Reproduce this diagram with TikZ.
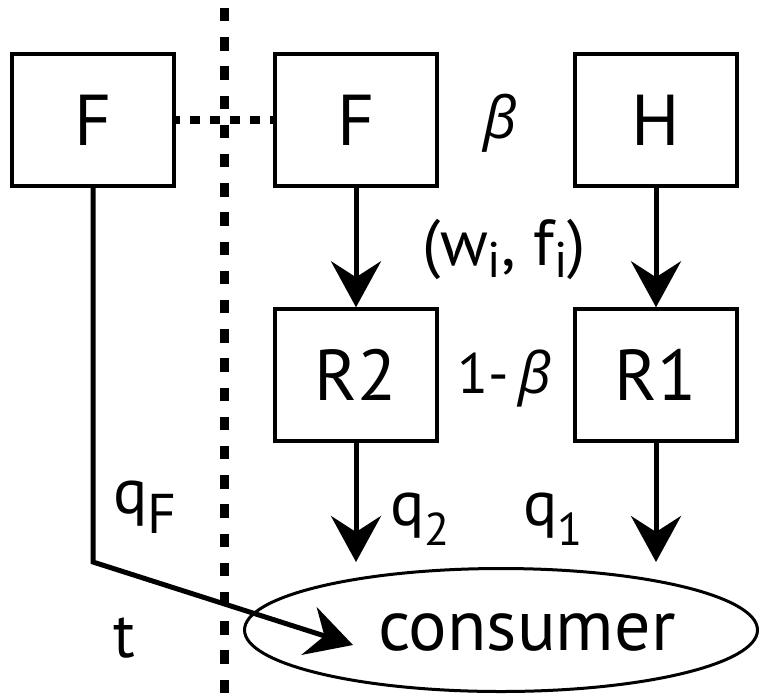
\documentclass[tikz,border=0pt]{standalone}
\usepackage{fontspec}
\setmainfont{PT Sans}
\newfontfamily\grk{Open Sans}
\usetikzlibrary{arrows.meta,shapes.geometric}
\newcommand\lowsub[2]{\raisebox{-#1}{\fontsize{46}{50}\selectfont #2}}
\begin{document}
\begin{tikzpicture}[x=1pt,y=-1pt,
  box/.style={draw,line width=3.5pt,minimum width=162pt,minimum height=132pt,
    inner sep=0pt,font=\fontsize{72}{80}\selectfont},
  arr/.style={line width=5pt,-{Stealth[length=46pt,width=50pt,inset=16pt]}},
  vdots/.style={line width=9pt,dash pattern=on 13.3pt off 15.9pt},
  hdots/.style={line width=8pt,dash pattern=on 10pt off 10pt,dash phase=6pt},
  lbl/.style={anchor=base west,inner sep=0pt,outer sep=0pt,font=\fontsize{64}{70}\selectfont},
]
\useasboundingbox (0,0) rectangle (760,697);
% boxes
\node[box] (FL) at (93,120) {F};
\node[box] (FM) at (356,120) {F};
\node[box] (H)  at (656,120) {H};
\node[box] (R2) at (356,375) {\raisebox{-5pt}{R2}};
\node[box] (R1) at (656,375) {\raisebox{-5pt}{R1}};
\node[draw,ellipse,line width=3pt,minimum width=513pt,minimum height=123pt,inner sep=0pt] (cons) at (501,630) {};
\node[lbl,font=\fontsize{72}{80}\selectfont] (constext) at (378,650) {consumer};
% dividing dotted line
\coordinate (vtop) at (224,8);
\coordinate (vbot) at (224,697);
\draw[vdots] (vtop) -- (vbot);
\draw[hdots] (FL.east) -- (FM.west);
% connectors
\coordinate (c2) at (356,562);
\coordinate (c1) at (656,562);
\coordinate (bend) at (93,562);
\coordinate (tip) at (353,645);
\draw[arr] (FM.south) -- (R2.north);
\draw[arr] (H.south) -- (R1.north);
\draw[arr] (R2.south) -- (c2);
\draw[arr] (R1.south) -- (c1);
\draw[arr,line join=miter] (FL.south) -- (bend) -- (tip);
% labels
\node[lbl] (beta) at (483,138) {\fontsize{58}{64}\selectfont\grk\itshape β};
\node[lbl,font=\fontsize{65}{70}\selectfont] (wf) at (422,265) {(w\lowsub{12pt}{\fontsize{50}{54}\selectfont i}, f\lowsub{12pt}{\fontsize{50}{54}\selectfont i})};
\node[lbl,font=\fontsize{57}{62}\selectfont] (omb) at (457,393) {1-\,{\grk\itshape β}};
\node[lbl] (qF) at (113,513) {q\lowsub{20pt}{\fontsize{56}{60}\selectfont F}};
\node[lbl] (q2) at (390,525) {q\lowsub{20pt}{2}};
\node[lbl] (q1) at (523,525) {q\lowsub{20pt}{1}};
\node[lbl] (t) at (113,657) {t};
\end{tikzpicture}
\end{document}
